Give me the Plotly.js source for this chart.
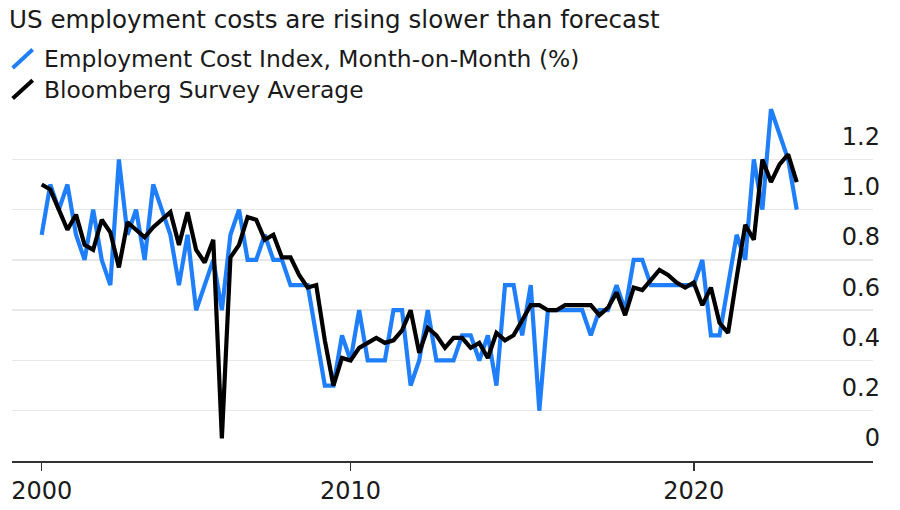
<!DOCTYPE html>
<html>
<head>
<meta charset="utf-8">
<script src="https://cdn.plot.ly/plotly-3.0.1.min.js"></script>
<style>
  html, body { margin: 0; padding: 0; background: #fff; }
  #chart { width: 900px; height: 510px; }
</style>
</head>
<body>
<div id="chart"></div>
<script>
// release quarters, a few early survey quarters are missing
var quarters = [
  '2000-Q1','2000-Q2','2000-Q3','2000-Q4',
  '2001-Q1','2001-Q2','2001-Q3','2001-Q4',
  '2002-Q1','2002-Q2','2002-Q4',
  '2003-Q1','2003-Q2','2003-Q3','2003-Q4',
  '2004-Q1','2004-Q2','2004-Q4',
  '2005-Q1','2005-Q2','2005-Q3','2005-Q4',
  '2006-Q1','2006-Q2','2006-Q4',
  '2007-Q1','2007-Q2','2007-Q3','2007-Q4',
  '2008-Q1','2008-Q2','2008-Q4',
  '2009-Q1','2009-Q2','2009-Q3','2009-Q4',
  '2010-Q1','2010-Q2','2010-Q3','2010-Q4',
  '2011-Q1','2011-Q2','2011-Q3','2011-Q4',
  '2012-Q1','2012-Q2','2012-Q3','2012-Q4',
  '2013-Q1','2013-Q2','2013-Q3','2013-Q4',
  '2014-Q1','2014-Q2','2014-Q3','2014-Q4',
  '2015-Q1','2015-Q2','2015-Q3','2015-Q4',
  '2016-Q1','2016-Q2','2016-Q3','2016-Q4',
  '2017-Q1','2017-Q2','2017-Q3','2017-Q4',
  '2018-Q1','2018-Q2','2018-Q3','2018-Q4',
  '2019-Q1','2019-Q2','2019-Q3','2019-Q4',
  '2020-Q1','2020-Q2','2020-Q3','2020-Q4',
  '2021-Q1','2021-Q2','2021-Q3','2021-Q4',
  '2022-Q1','2022-Q2','2022-Q3','2022-Q4',
  '2023-Q1'
];

var eci = [
  0.9, 1.1, 1.0, 1.1, 0.9, 0.8, 1.0, 0.8, 0.7, 1.2,
  0.9, 1.0, 0.8, 1.1, 1.0, 0.9, 0.7, 0.9, 0.6, 0.7,
  0.8, 0.6, 0.9, 1.0, 0.8, 0.8, 0.9, 0.8, 0.8, 0.7,
  0.7, 0.7, 0.5, 0.3, 0.3, 0.5, 0.4, 0.6, 0.4, 0.4,
  0.4, 0.6, 0.6, 0.3, 0.4, 0.6, 0.4, 0.4, 0.4, 0.5,
  0.5, 0.4, 0.5, 0.3, 0.7, 0.7, 0.5, 0.7, 0.2, 0.6,
  0.6, 0.6, 0.6, 0.6, 0.5, 0.6, 0.6, 0.7, 0.6, 0.8,
  0.8, 0.7, 0.7, 0.7, 0.7, 0.7, 0.7, 0.8, 0.5, 0.5,
  0.7, 0.9, 0.8, 1.2, 1.0, 1.4, 1.3, 1.2, 1.0
];

var survey = [
  1.10, 1.08, 1.00, 0.92, 0.98, 0.86, 0.84, 0.96, 0.91, 0.77,
  0.95, 0.92, 0.89, 0.93, 0.96, 0.99, 0.86, 0.99, 0.84, 0.79,
  0.88, 0.09, 0.81, 0.86, 0.97, 0.96, 0.88, 0.90, 0.81, 0.81,
  0.74, 0.69, 0.70, 0.48, 0.30, 0.41, 0.40, 0.45, 0.47, 0.49,
  0.47, 0.48, 0.52, 0.60, 0.43, 0.53, 0.50, 0.45, 0.49, 0.49,
  0.45, 0.47, 0.41, 0.51, 0.48, 0.50, 0.56, 0.62, 0.62, 0.60,
  0.60, 0.62, 0.62, 0.62, 0.62, 0.58, 0.61, 0.67, 0.58, 0.69,
  0.68, 0.72, 0.76, 0.74, 0.71, 0.69, 0.71, 0.62, 0.69, 0.55,
  0.51, 0.73, 0.94, 0.88, 1.20, 1.11, 1.18, 1.22, 1.11
];

var xTickVals = ['2000-Q1', '2010-Q1', '2020-Q1'];
var xTickText = ['2000', '2010', '2020'];
var yTickVals = [0, 0.2, 0.4, 0.6, 0.8, 1.0, 1.2];
var yTickText = ['0', '0.2', '0.4', '0.6', '0.8', '1.0', '1.2'];

var seriesNames = ['Employment Cost Index, Month-on-Month (%)', 'Bloomberg Survey Average'];
var blue = '#1f7ffb';
var black = '#000000';
var font = 'DejaVu Sans, sans-serif';

var trace1 = {
  x: quarters,
  y: eci,
  name: seriesNames[0],
  type: 'scatter',
  mode: 'lines',
  line: {color: blue, width: 4.2, shape: 'linear'},
  hoverinfo: 'skip'
};

var trace2 = {
  x: quarters,
  y: survey,
  name: seriesNames[1],
  type: 'scatter',
  mode: 'lines',
  line: {color: black, width: 4.2, shape: 'linear'},
  hoverinfo: 'skip'
};

var data = [trace1, trace2];

var layout = {
  width: 900,
  height: 510,
  margin: {l: 12, r: 27, t: 83.75, b: 49},
  paper_bgcolor: '#ffffff',
  plot_bgcolor: '#ffffff',
  showlegend: false,
  font: {family: font, color: '#1a1a1a'},
  title: {
    text: 'US employment costs are rising slower than forecast',
    font: {family: font, size: 24.6, color: '#1a1a1a'},
    xref: 'container', x: 9 / 900, xanchor: 'left',
    yref: 'container', y: 1 - 19 / 510, yanchor: 'middle'
  },
  xaxis: {
    type: 'category',
    categoryorder: 'array',
    categoryarray: quarters,
    range: [-3.46, 96.89],
    tickmode: 'array',
    tickvals: xTickVals,
    ticktext: xTickText,
    showgrid: false,
    zeroline: false,
    showline: true,
    linecolor: '#333333',
    linewidth: 1.5,
    ticks: 'outside',
    ticklen: 8,
    tickwidth: 1.5,
    tickcolor: '#333333',
    tickfont: {family: font, size: 24, color: '#1a1a1a'},
    fixedrange: true
  },
  yaxis: {
    range: [0, 1.5],
    side: 'right',
    tickmode: 'array',
    tickvals: yTickVals,
    ticktext: yTickText,
    ticklabelposition: 'inside',
    ticklabelshift: -23,
    ticklabelstandoff: -10,
    ticks: '',
    showline: false,
    zeroline: false,
    showgrid: true,
    gridcolor: '#e8e8e8',
    gridwidth: 1.5,
    tickfont: {family: font, size: 24, color: '#1a1a1a'},
    fixedrange: true
  },
  shapes: [
    {type: 'line', xref: 'paper', yref: 'paper',
     x0: 0.0008, y0: 1.0426, x1: 0.0240, y1: 1.0913,
     line: {color: blue, width: 4}},
    {type: 'line', xref: 'paper', yref: 'paper',
     x0: 0.0008, y0: 0.9614, x1: 0.0240, y1: 1.0099,
     line: {color: black, width: 4}}
  ],
  annotations: [
    {text: seriesNames[0], xref: 'paper', yref: 'paper',
     x: 0.0348, y: 1.0656, xanchor: 'left', yanchor: 'middle',
     showarrow: false, font: {family: font, size: 23.4, color: '#1a1a1a'}},
    {text: seriesNames[1], xref: 'paper', yref: 'paper',
     x: 0.0348, y: 0.9848, xanchor: 'left', yanchor: 'middle',
     showarrow: false, font: {family: font, size: 23.4, color: '#1a1a1a'}}
  ]
};

Plotly.newPlot('chart', data, layout, {staticPlot: true, displayModeBar: false});
</script>
</body>
</html>
